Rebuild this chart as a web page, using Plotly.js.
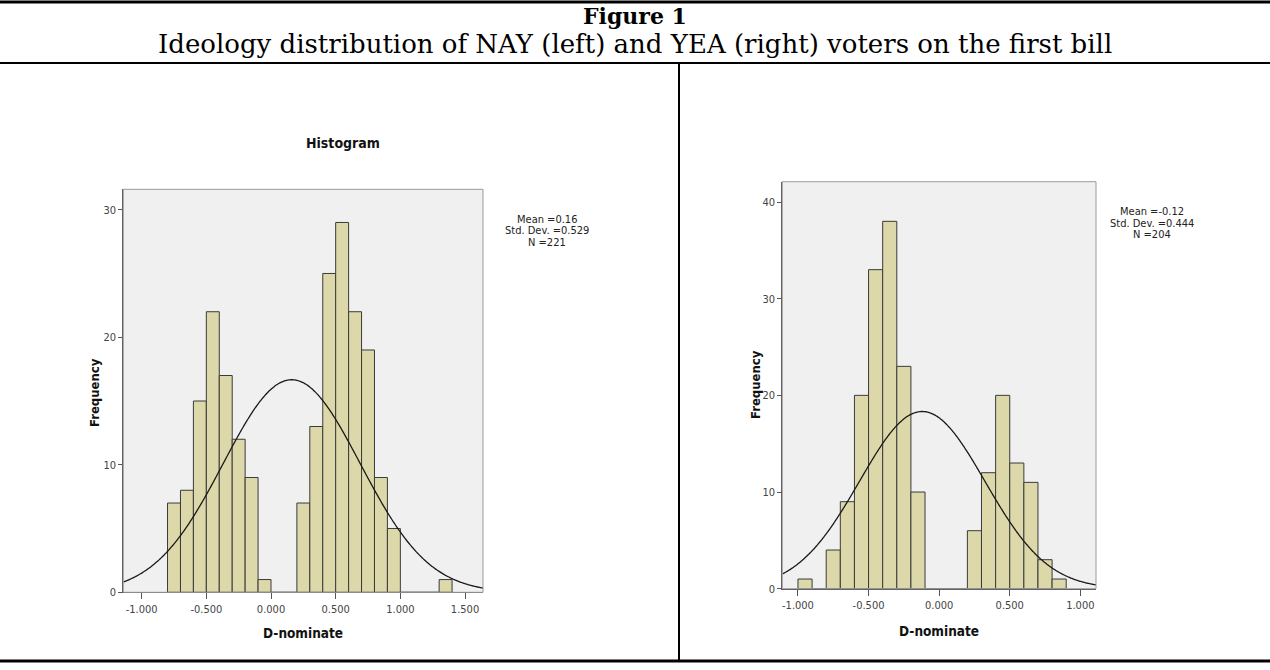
<!DOCTYPE html>
<html>
<head>
<meta charset="utf-8">
<script src="https://cdn.plot.ly/plotly-3.0.1.min.js"></script>
<style>
  html, body { margin: 0; padding: 0; background: #fff; }
  #chart { width: 1270px; height: 670px; }
</style>
</head>
<body>
<div id="chart"></div>
<script>
// ---- Data ----
var binWidth = 0.1;

// NAY voters (left panel): bin left edges and frequencies
var nayBinLeft = [-0.8, -0.7, -0.6, -0.5, -0.4, -0.3, -0.2, -0.1, 0.0, 0.1, 0.2, 0.3, 0.4, 0.5, 0.6, 0.7, 0.8, 0.9, 1.0, 1.1, 1.2, 1.3];
var nayCounts  = [7, 8, 15, 22, 17, 12, 9, 1, 0, 0, 7, 13, 25, 29, 22, 19, 9, 5, 0, 0, 0, 1];
var nayMean = 0.16, naySD = 0.529, nayN = 221;

// YEA voters (right panel)
var yeaBinLeft = [-1.0, -0.9, -0.8, -0.7, -0.6, -0.5, -0.4, -0.3, -0.2, -0.1, 0.0, 0.1, 0.2, 0.3, 0.4, 0.5, 0.6, 0.7, 0.8];
var yeaCounts  = [1, 0, 4, 9, 20, 33, 38, 23, 10, 0, 0, 0, 6, 12, 20, 13, 11, 3, 1];
var yeaMean = -0.12, yeaSD = 0.444, yeaN = 204;

var xTickVals1 = [-1.0, -0.5, 0.0, 0.5, 1.0, 1.5];
var xTickText1 = ['-1.000', '-0.500', '0.000', '0.500', '1.000', '1.500'];
var xTickVals2 = [-1.0, -0.5, 0.0, 0.5, 1.0];
var xTickText2 = ['-1.000', '-0.500', '0.000', '0.500', '1.000'];
var yTickVals1 = [0, 10, 20, 30];
var yTickVals2 = [0, 10, 20, 30, 40];

// ---- Normal curve fitted from the stated statistics ----
function normalCurve(mean, sd, n, x0, x1) {
  var xs = [], ys = [], steps = 300;
  for (var i = 0; i <= steps; i++) {
    var x = x0 + (x1 - x0) * i / steps;
    var z = (x - mean) / sd;
    xs.push(x);
    ys.push(n * binWidth * Math.exp(-0.5 * z * z) / (sd * Math.sqrt(2 * Math.PI)));
  }
  return {x: xs, y: ys};
}

var W = 1270, H = 670;
function px(x) { return x / W; }
function py(y) { return 1 - y / H; }

var cond = '"Liberation Sans Narrow", "DejaVu Sans Condensed", "DejaVu Sans", sans-serif';
var bold = '"DejaVu Sans Condensed", "DejaVu Sans", sans-serif';
var serif = '"DejaVu Serif", "Liberation Serif", serif';

var barFill = '#dcd8a9';
var barLine = '#3a3a3a';

var xr1 = [-1.142, 1.639], yr1 = [0, 31.6];
var xr2 = [-1.111, 1.111], yr2 = [0, 42.1];

var c1 = normalCurve(nayMean, naySD, nayN, xr1[0], xr1[1]);
var c2 = normalCurve(yeaMean, yeaSD, yeaN, xr2[0], xr2[1]);

var traces = [
  {type: 'bar', x: nayBinLeft, y: nayCounts, width: binWidth, offset: 0,
   marker: {color: barFill, line: {color: barLine, width: 1}},
   xaxis: 'x', yaxis: 'y', hoverinfo: 'x+y'},
  {type: 'scatter', mode: 'lines', x: c1.x, y: c1.y,
   line: {color: '#1a1a1a', width: 1.3, shape: 'spline'}, xaxis: 'x', yaxis: 'y', hoverinfo: 'skip'},
  {type: 'bar', x: yeaBinLeft, y: yeaCounts, width: binWidth, offset: 0,
   marker: {color: barFill, line: {color: barLine, width: 1}},
   xaxis: 'x2', yaxis: 'y2', hoverinfo: 'x+y'},
  {type: 'scatter', mode: 'lines', x: c2.x, y: c2.y,
   line: {color: '#1a1a1a', width: 1.3, shape: 'spline'}, xaxis: 'x2', yaxis: 'y2', hoverinfo: 'skip'}
];

function xAxis(domain, range, tickvals, ticktext, anchor) {
  return {
    domain: domain, range: range, anchor: anchor,
    tickvals: tickvals, ticktext: ticktext,
    ticks: 'outside', ticklen: 6, tickwidth: 1, tickcolor: '#555',
    showline: true, linecolor: '#555', linewidth: 1,
    showgrid: false, zeroline: false,
    tickfont: {family: cond, size: 11, color: '#444'}
  };
}
function yAxis(domain, range, tickvals, anchor) {
  return {
    domain: domain, range: range, anchor: anchor,
    tickvals: tickvals,
    ticks: 'outside', ticklen: 4, tickwidth: 1, tickcolor: '#555',
    showline: true, linecolor: '#555', linewidth: 1,
    showgrid: false, zeroline: false,
    tickfont: {family: cond, size: 11, color: '#444'}
  };
}

var L1 = 123.3, R1 = 483, T1 = 189.3, B1 = 592.3;
var L2 = 782.3, R2 = 1096, T2 = 181.7, B2 = 588.7;

var layout = {
  width: W, height: H,
  margin: {l: 0, r: 0, t: 0, b: 0},
  paper_bgcolor: '#ffffff',
  plot_bgcolor: '#f0f0f0',
  showlegend: false,
  bargap: 0,
  xaxis:  xAxis([px(L1), px(R1)], xr1, xTickVals1, xTickText1, 'y'),
  yaxis:  yAxis([py(B1), py(T1)], yr1, yTickVals1, 'x'),
  xaxis2: xAxis([px(L2), px(R2)], xr2, xTickVals2, xTickText2, 'y2'),
  yaxis2: yAxis([py(B2), py(T2)], yr2, yTickVals2, 'x2'),
  shapes: [
    {type: 'rect', xref: 'x domain', yref: 'y domain', x0: 0, x1: 1, y0: 0, y1: 1,
     line: {color: '#9a9a9a', width: 1}},
    {type: 'rect', xref: 'x2 domain', yref: 'y2 domain', x0: 0, x1: 1, y0: 0, y1: 1,
     line: {color: '#9a9a9a', width: 1}},
    {type: 'line', xref: 'paper', yref: 'paper', x0: 0, x1: 1, y0: py(2), y1: py(2),
     line: {color: '#000', width: 3}},
    {type: 'line', xref: 'paper', yref: 'paper', x0: 0, x1: 1, y0: py(63), y1: py(63),
     line: {color: '#000', width: 2}},
    {type: 'line', xref: 'paper', yref: 'paper', x0: px(679), x1: px(679), y0: py(63), y1: py(661),
     line: {color: '#000', width: 2}},
    {type: 'line', xref: 'paper', yref: 'paper', x0: 0, x1: 1, y0: py(661), y1: py(661),
     line: {color: '#000', width: 3}}
  ],
  annotations: [
    {text: '<b>Figure 1</b>', xref: 'paper', yref: 'paper', x: 0.5, y: py(16),
     xanchor: 'center', yanchor: 'middle', showarrow: false,
     font: {family: serif, size: 22, color: '#000'}},
    {text: 'Ideology distribution of NAY (left) and YEA (right) voters on the first bill',
     xref: 'paper', yref: 'paper', x: 0.5, y: py(44),
     xanchor: 'center', yanchor: 'middle', showarrow: false,
     font: {family: serif, size: 26, color: '#000'}},
    {text: '<b>Histogram</b>', xref: 'paper', yref: 'paper', x: px(343), y: py(143),
     xanchor: 'center', yanchor: 'middle', showarrow: false,
     font: {family: bold, size: 14, color: '#111'}},
    {text: 'Mean =0.16', xref: 'paper', yref: 'paper', x: px(547), y: py(219),
     xanchor: 'center', yanchor: 'middle', showarrow: false,
     font: {family: cond, size: 11, color: '#222'}},
    {text: 'Std. Dev. =0.529', xref: 'paper', yref: 'paper', x: px(547), y: py(230.5),
     xanchor: 'center', yanchor: 'middle', showarrow: false,
     font: {family: cond, size: 11, color: '#222'}},
    {text: 'N =221', xref: 'paper', yref: 'paper', x: px(547), y: py(242),
     xanchor: 'center', yanchor: 'middle', showarrow: false,
     font: {family: cond, size: 11, color: '#222'}},
    {text: 'Mean =-0.12', xref: 'paper', yref: 'paper', x: px(1152), y: py(211.5),
     xanchor: 'center', yanchor: 'middle', showarrow: false,
     font: {family: cond, size: 11, color: '#222'}},
    {text: 'Std. Dev. =0.444', xref: 'paper', yref: 'paper', x: px(1152), y: py(223),
     xanchor: 'center', yanchor: 'middle', showarrow: false,
     font: {family: cond, size: 11, color: '#222'}},
    {text: 'N =204', xref: 'paper', yref: 'paper', x: px(1152), y: py(234.5),
     xanchor: 'center', yanchor: 'middle', showarrow: false,
     font: {family: cond, size: 11, color: '#222'}},
    {text: '<b>Frequency</b>', xref: 'paper', yref: 'paper', x: px(94), y: py(393),
     xanchor: 'center', yanchor: 'middle', textangle: -90, showarrow: false,
     font: {family: bold, size: 13, color: '#111'}},
    {text: '<b>Frequency</b>', xref: 'paper', yref: 'paper', x: px(755), y: py(385),
     xanchor: 'center', yanchor: 'middle', textangle: -90, showarrow: false,
     font: {family: bold, size: 13, color: '#111'}},
    {text: '<b>D-nominate</b>', xref: 'paper', yref: 'paper', x: px(303), y: py(633),
     xanchor: 'center', yanchor: 'middle', showarrow: false,
     font: {family: bold, size: 13.5, color: '#111'}},
    {text: '<b>D-nominate</b>', xref: 'paper', yref: 'paper', x: px(939), y: py(631),
     xanchor: 'center', yanchor: 'middle', showarrow: false,
     font: {family: bold, size: 13.5, color: '#111'}}
  ]
};

Plotly.newPlot('chart', traces, layout, {displayModeBar: false, staticPlot: true});
</script>
</body>
</html>
